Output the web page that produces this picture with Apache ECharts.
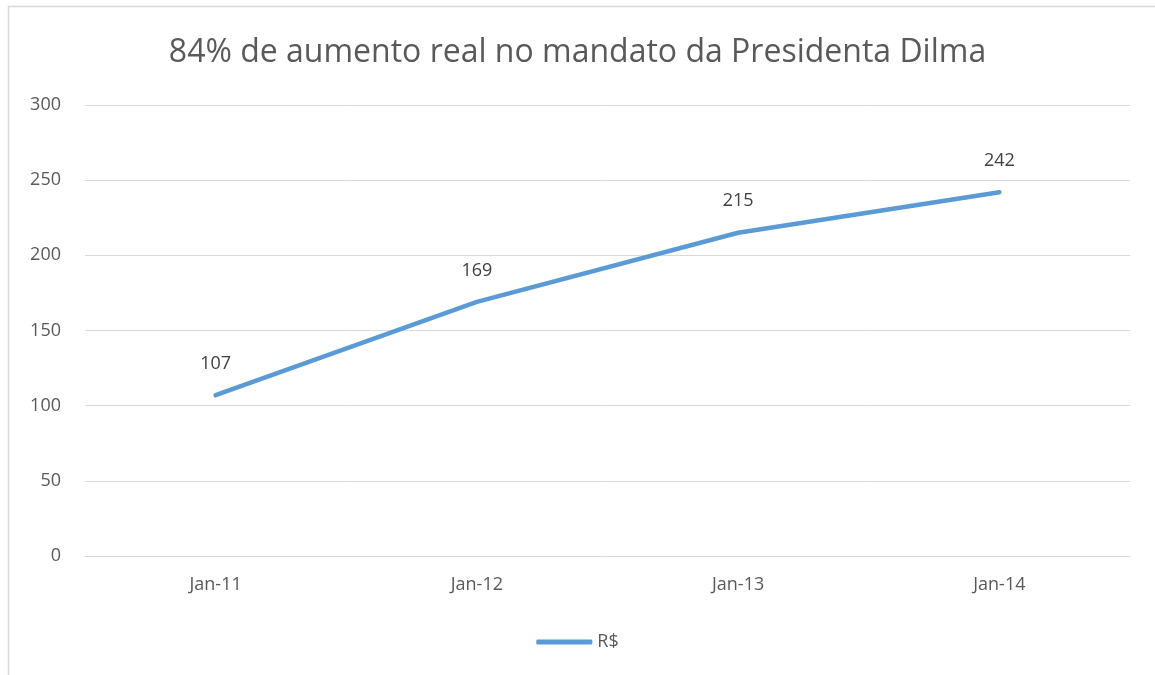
<!DOCTYPE html>
<html>
<head>
<meta charset="utf-8">
<script src="https://cdn.jsdelivr.net/npm/echarts@6/dist/echarts.min.js"></script>
<style>
  html, body { margin: 0; padding: 0; background: #fff; }
  #chart { width: 1155px; height: 675px; }
</style>
</head>
<body>
<div id="chart"></div>
<script>
  // dados
  const categories = ['Jan-11', 'Jan-12', 'Jan-13', 'Jan-14'];
  const valores = [107, 169, 215, 242];
  const seriesName = 'R$';
  const titulo = '84% de aumento real no mandato da Presidenta Dilma';

  const chart = echarts.init(document.getElementById('chart'));
  const font = 'Open Sans';
  const option = {
    animation: false,
    backgroundColor: '#fff',
    graphic: [{
      type: 'rect',
      shape: { x: 8.5, y: 6.5, width: 1160, height: 680 },
      style: { fill: 'none', stroke: '#d9d9d9', lineWidth: 1.5 },
      silent: true
    }],
    title: {
      text: titulo,
      left: 'center',
      top: 32,
      textStyle: { color: '#595959', fontFamily: font, fontSize: 32, fontWeight: 'normal' }
    },
    legend: {
      data: [seriesName],
      left: 'center',
      top: 628,
      itemWidth: 56,
      itemHeight: 5,
      itemGap: 6,
      icon: 'roundRect',
      textStyle: { color: '#595959', fontFamily: font, fontSize: 18 }
    },
    grid: {
      left: 85,
      right: 25,
      top: 105,
      bottom: 119,
      containLabel: false
    },
    xAxis: {
      type: 'category',
      data: categories,
      boundaryGap: true,
      axisLine: { show: true, lineStyle: { color: '#d9d9d9', width: 1 } },
      axisTick: { show: false },
      axisLabel: { color: '#595959', fontFamily: font, fontSize: 18, margin: 20 }
    },
    yAxis: {
      type: 'value',
      min: 0,
      max: 300,
      interval: 50,
      axisLabel: { color: '#595959', fontFamily: font, fontSize: 18, margin: 24 },
      axisLine: { show: false },
      axisTick: { show: false },
      splitLine: { lineStyle: { color: '#d9d9d9', width: 1 } }
    },
    series: [{
      name: seriesName,
      type: 'line',
      data: valores,
      symbol: 'circle',
      symbolSize: 1,
      showSymbol: true,
      lineStyle: { color: '#5b9bd5', width: 4.5, cap: 'round' },
      itemStyle: { color: '#5b9bd5' },
      label: {
        show: true,
        position: 'top',
        distance: 22,
        color: '#404040',
        fontFamily: font,
        fontSize: 18
      }
    }]
  };
  chart.setOption(option);
</script>
</body>
</html>
